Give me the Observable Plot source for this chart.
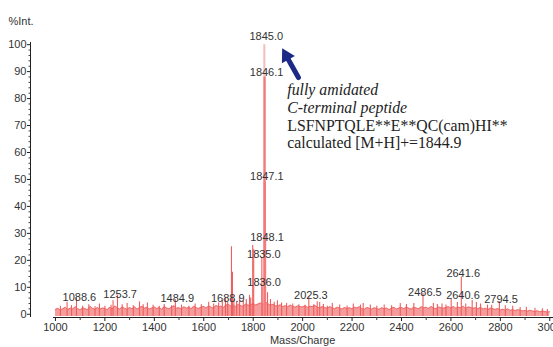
<!DOCTYPE html>
<html><head><meta charset="utf-8">
<script src="https://cdn.jsdelivr.net/npm/d3@7"></script>
<script src="https://cdn.jsdelivr.net/npm/@observablehq/plot@0.6"></script>
<style>
html,body{margin:0;padding:0;background:#fff;overflow:hidden;}
#chart svg{overflow:visible;font-family:"Liberation Sans",Arial,sans-serif;}
</style></head><body><div id="chart"></div>
<script>
// baseline noise, every 10 Da from 1000 to 3000 (% intensity)
const noiseStart = 1000;
const noiseStep = 10;
const noise = [
1.8,2.2,1.5,2.0,2.6,1.7,2.3,1.9,2.8,2.1,
1.6,2.4,2.0,1.7,2.9,2.2,1.8,2.5,1.9,2.3,
2.1,1.7,2.6,2.0,3.1,2.4,1.9,2.7,2.2,1.8,
2.5,2.0,2.8,1.9,2.4,3.0,2.2,2.6,1.9,2.3,
2.7,2.1,2.5,1.8,2.9,2.3,2.0,2.6,3.2,2.2,
2.4,1.9,2.8,2.2,2.6,2.0,3.0,2.4,2.1,2.7,
2.9,2.3,3.1,2.6,2.2,3.3,2.7,3.0,2.5,3.4,
3.6,3.0,3.4,2.8,3.7,3.2,2.9,3.8,3.3,3.5,
4.0,3.4,3.8,4.2,3.6,4.5,3.9,3.3,3.7,3.2,
3.0,3.5,2.8,3.2,2.7,3.4,2.9,2.6,3.1,2.8,
2.7,3.2,2.5,3.0,2.8,3.3,2.6,2.4,2.9,2.5,
2.2,2.8,2.4,2.0,2.6,2.3,1.9,2.5,2.1,2.4,
2.0,2.6,2.3,2.8,2.1,1.8,2.5,2.2,1.9,2.4,
2.1,1.8,2.4,2.0,2.3,1.7,2.2,2.6,1.9,2.3,
2.5,2.0,2.7,2.2,1.9,2.6,2.3,2.0,2.8,2.4,
2.6,2.1,2.9,2.3,2.0,2.7,2.4,2.2,2.5,2.8,
2.3,2.9,2.2,2.6,2.4,3.0,2.1,2.7,2.5,2.2,
2.4,2.0,2.6,1.9,2.2,1.7,2.3,2.0,1.8,2.1,
1.6,1.9,1.5,2.0,1.4,1.8,1.3,1.7,1.5,1.2,
1.4,1.1,1.5,1.2,1.0,1.3,0.9,1.2,1.0,0.8,
0.9];

// individual spikes (m/z, % intensity)
const spikeMass = [1020,1047,1065,1085,1110,1135,1160,1178,1200,1225,1233,1251,1270,1290,1315,1340,1355,1372,1395,1420,1440,1470,1485,1510,1540,1565,1590,1620,1640,1660,1675,1688,1697,1712,1716,1722,1733,1745,1760,1772,1785,1790,1798,1802,1858,1870,1885,1898,1915,1935,1960,1985,2010,2025,2045,2059,2069,2084,2100,2120,2150,2180,2205,2234,2245,2274,2300,2330,2360,2395,2420,2450,2487,2529,2545,2564,2580,2601,2626,2642,2660,2686,2703,2720,2748,2765,2796,2820,2850,2880,2905,2940,2970,2990];
const spikeInt  = [3.0,4.5,3.2,6.0,3.0,3.5,2.8,3.8,3.0,3.3,5.0,7.0,3.5,4.0,3.2,4.6,3.5,4.2,3.3,3.0,3.6,3.2,5.5,3.4,3.0,3.8,3.5,4.5,3.8,4.2,5.0,5.8,4.5,25.0,15.6,5.5,4.6,6.2,4.8,5.5,7.0,6.0,25.5,24.0,8.0,5.5,4.5,5.0,4.2,4.0,3.8,3.5,3.3,6.3,3.5,4.6,4.4,3.6,3.0,4.0,3.4,3.1,3.8,3.4,4.0,3.4,3.0,3.4,3.2,4.0,3.6,4.0,7.7,4.0,3.6,3.8,3.4,5.5,4.4,13.8,3.8,5.1,4.4,3.8,3.4,3.3,4.6,3.2,3.0,2.5,2.6,2.2,2.0,1.8];

// isotope cluster of the main peak
const mainMass = [1845.0, 1846.1, 1847.1, 1848.1, 1835.0, 1836.0];
const mainInt  = [100, 88, 49, 27, 21, 10];

// peak labels and the height at which each label sits
const labelText = ["1845.0","1846.1","1847.1","1848.1","1835.0","1836.0","1088.6","1253.7","1484.9","1688.9","2025.3","2486.5","2641.6","2640.6","2794.5"];
const labelMass = [1845.0,1846.1,1847.1,1848.1,1835.0,1836.0,1088.6,1253.7,1484.9,1688.9,2025.3,2486.5,2641.6,2640.6,2794.5];
const labelLevel = [103,89.7,51.1,28.5,22.2,11.8,6.2,7.3,5.9,5.9,7.0,8.2,15.2,7.0,5.5];

const xTickValues = [1000,1200,1400,1600,1800,2000,2200,2400,2600,2800,3000];
const xMinorTicks = [1100,1300,1500,1700,1900,2100,2300,2500,2700,2900];
const yTickValues = [0,10,20,30,40,50,60,70,80,90,100];
const yMinorTicks = d3.range(0, 101, 2).filter(v => v % 10 !== 0);

const noteItalic = "fully amidated\nC-terminal peptide";
const notePlain = "LSFNPTQLE**E**QC(cam)HI**\ncalculated [M+H]+=1844.9";
const noteAt = {mass: 1938, italicLevel: 85.9, plainLevel: 72.8};
const arrowFrom = {mass: 1983, level: 87.8};
const arrowTo = {mass: 1917, level: 98.6};

const noiseData = noise.map((v, i) => ({mass: noiseStart + i * noiseStep, int: v}));
const spikes = spikeMass.map((m, i) => ({mass: m, int: spikeInt[i]}));
const mains = mainMass.map((m, i) => ({mass: m, int: mainInt[i]}));
const labels = labelText.map((t, i) => ({text: t, mass: labelMass[i], level: labelLevel[i]}));

const X0 = 899, X1 = 3015, Y0 = -1.2, Y1 = 100.8;
const tickFill = "#333";
const serif = "'Liberation Serif', 'Times New Roman', serif";

const chart = Plot.plot({
  width: 553,
  height: 347,
  marginLeft: 30,
  marginRight: 0,
  marginTop: 42,
  marginBottom: 30,
  style: {fontFamily: "'Liberation Sans', Arial, sans-serif", fontSize: "11px", background: "#fff"},
  x: {domain: [X0, X1], label: null},
  y: {domain: [Y0, Y1], label: null},
  marks: [
    // spectrum
    Plot.areaY(noiseData, {x: "mass", y1: -0.8, y2: "int", fill: "#f59c9c", curve: "linear"}),
    Plot.lineY(noiseData, {x: "mass", y: "int", stroke: "#ee6666", strokeWidth: 0.9}),
    Plot.ruleX(spikes, {x: "mass", y1: -0.8, y2: "int", stroke: "#ee5e5e", strokeWidth: 1.1}),
    Plot.ruleX(mains.slice(0, 1), {x: "mass", y1: -0.8, y2: "int", stroke: "#f6bcbc", strokeWidth: 2}),
    Plot.ruleX(mains.slice(1, 4), {x: "mass", y1: -0.8, y2: "int", stroke: "#f27a7a", strokeWidth: 2.2}),
    Plot.ruleX(mains.slice(4), {x: "mass", y1: -0.8, y2: "int", stroke: "#f06c6c", strokeWidth: 1.2}),
    // axes
    Plot.ruleX([X0], {stroke: "#222", strokeWidth: 1}),
    Plot.ruleY([Y0], {x1: 992, x2: X1, stroke: "#222", strokeWidth: 1}),
    Plot.axisY(yTickValues, {anchor: "left", tickSize: 3, tickPadding: 1, fill: tickFill, stroke: "#222", fontSize: 11}),
    Plot.axisY(yMinorTicks, {anchor: "left", tickSize: 1.5, tickFormat: () => "", stroke: "#444"}),
    Plot.axisX(xTickValues, {anchor: "bottom", tickSize: 4, tickPadding: 2, tickFormat: d => String(d), fill: tickFill, stroke: "#222", fontSize: 11}),
    Plot.axisX(xMinorTicks, {anchor: "bottom", tickSize: 3, tickFormat: () => "", stroke: "#444"}),
    Plot.text(["Mass/Charge"], {x: () => 2000, y: () => Y0, dy: 23, fill: tickFill, fontSize: 11}),
    Plot.text(["%Int."], {frameAnchor: "top-left", dx: -22, dy: -25, textAnchor: "start", fill: tickFill, fontSize: 11}),
    // peak labels
    Plot.text(labels, {x: "mass", y: "level", text: "text", dx: 2, fill: tickFill, fontSize: 11}),
    // annotation
    Plot.arrow([0], {x1: () => arrowFrom.mass, y1: () => arrowFrom.level, x2: () => arrowTo.mass, y2: () => arrowTo.level,
      stroke: "#1c2a86", strokeWidth: 5, headLength: 0, insetEnd: 9, bend: false}),
    Plot.dot([0], {x: () => arrowTo.mass, y: () => arrowTo.level, symbol: "triangle", r: 5.5, rotate: -29,
      dx: 4.2, dy: 7.4, fill: "#1c2a86", stroke: "none"}),
    Plot.text([noteItalic], {x: () => noteAt.mass, y: () => noteAt.italicLevel, text: d => d, textAnchor: "start", lineAnchor: "top",
      lineHeight: 1.12, fontFamily: serif, fontStyle: "italic", fontSize: 15.8, fill: "#222"}),
    Plot.text([notePlain], {x: () => noteAt.mass, y: () => noteAt.plainLevel, text: d => d, textAnchor: "start", lineAnchor: "top",
      lineHeight: 1.12, fontFamily: serif, fontSize: 15.8, fill: "#222"})
  ]
});
document.getElementById("chart").appendChild(chart);
</script>
</body></html>
